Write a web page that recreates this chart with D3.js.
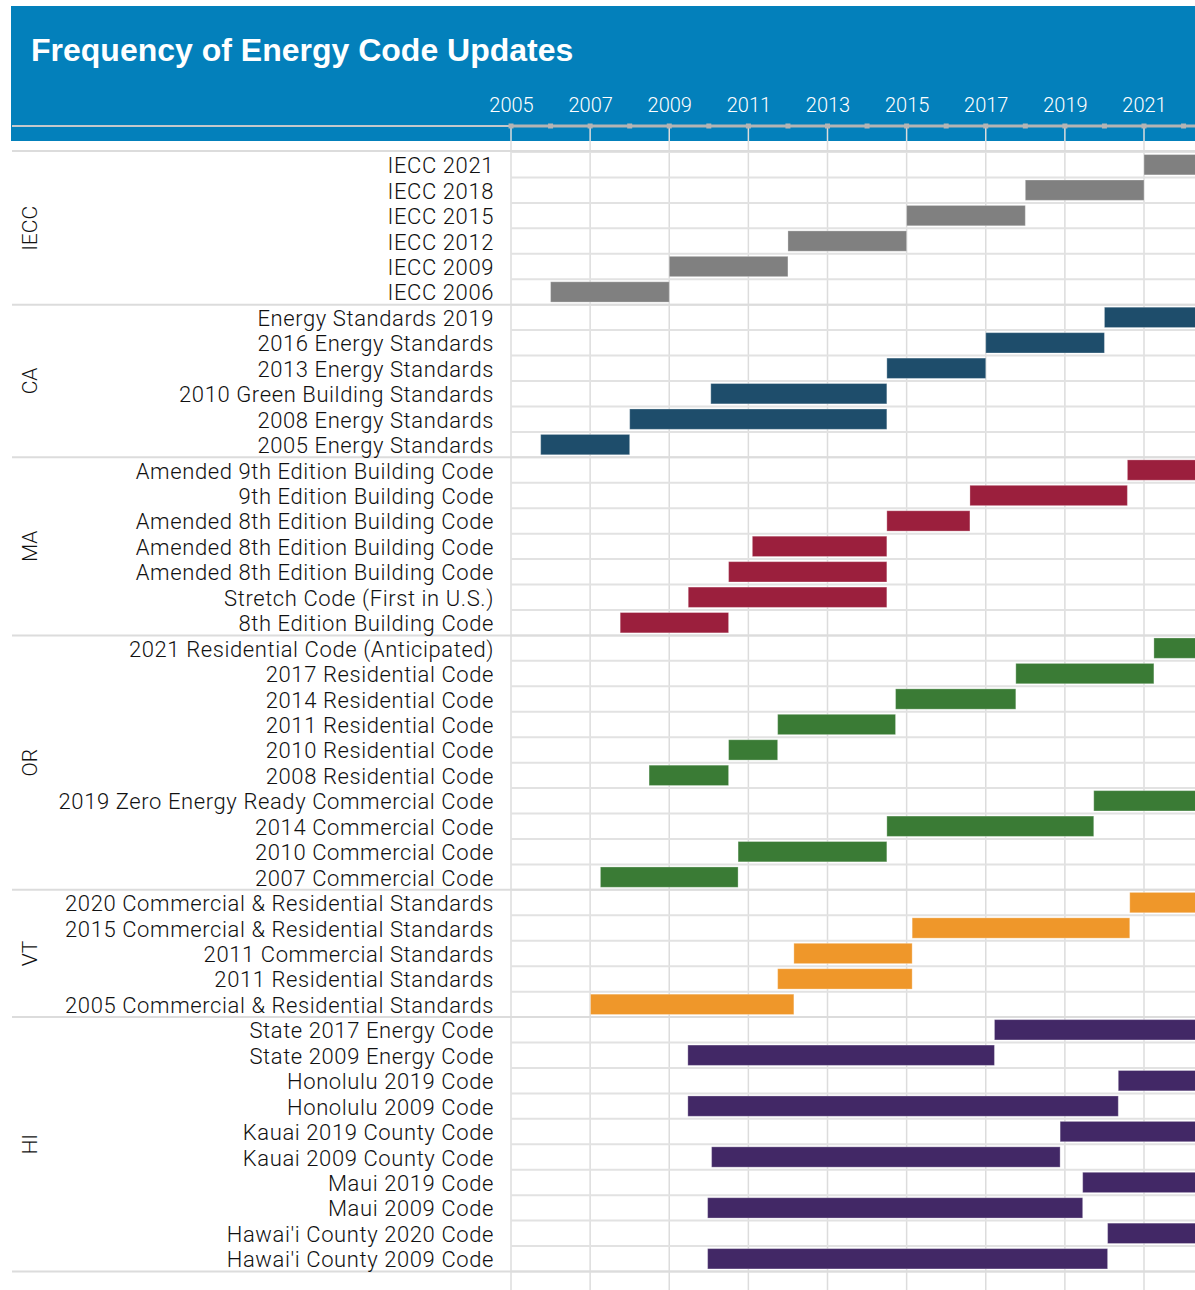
<!DOCTYPE html>
<html>
<head>
<meta charset="utf-8">
<script src="https://cdn.jsdelivr.net/npm/d3@7"></script>
<style>
  body { margin: 0; background: #fff; }
  svg { display: block; }
</style>
</head>
<body>
<div id="chart"></div>
<script>
// state / standard family of each row block
var groups = ["IECC", "CA", "MA", "OR", "VT", "HI"];
var groupColors = ["#808080", "#1e4d6b", "#9b1f3d", "#3a7b35", "#ef972a", "#422866"];

var codeNames = [
  "IECC 2021", "IECC 2018", "IECC 2015", "IECC 2012", "IECC 2009", "IECC 2006",
  "Energy Standards 2019", "2016 Energy Standards", "2013 Energy Standards",
  "2010 Green Building Standards", "2008 Energy Standards", "2005 Energy Standards",
  "Amended 9th Edition Building Code", "9th Edition Building Code",
  "Amended 8th Edition Building Code", "Amended 8th Edition Building Code",
  "Amended 8th Edition Building Code", "Stretch Code (First in U.S.)", "8th Edition Building Code",
  "2021 Residential Code (Anticipated)", "2017 Residential Code", "2014 Residential Code",
  "2011 Residential Code", "2010 Residential Code", "2008 Residential Code",
  "2019 Zero Energy Ready Commercial Code", "2014 Commercial Code",
  "2010 Commercial Code", "2007 Commercial Code",
  "2020 Commercial & Residential Standards", "2015 Commercial & Residential Standards",
  "2011 Commercial Standards", "2011 Residential Standards",
  "2005 Commercial & Residential Standards",
  "State 2017 Energy Code", "State 2009 Energy Code", "Honolulu 2019 Code", "Honolulu 2009 Code",
  "Kauai 2019 County Code", "Kauai 2009 County Code", "Maui 2019 Code", "Maui 2009 Code",
  "Hawai'i County 2020 Code", "Hawai'i County 2009 Code"
];
var codeGroups = [
  "IECC", "IECC", "IECC", "IECC", "IECC", "IECC",
  "CA", "CA", "CA", "CA", "CA", "CA",
  "MA", "MA", "MA", "MA", "MA", "MA", "MA",
  "OR", "OR", "OR", "OR", "OR", "OR", "OR", "OR", "OR", "OR",
  "VT", "VT", "VT", "VT", "VT",
  "HI", "HI", "HI", "HI", "HI", "HI", "HI", "HI", "HI", "HI"
];
// year the code took effect / was replaced (null = still in force)
var startYears = [
  2021, 2018, 2015, 2012, 2009, 2006,
  2020, 2017, 2014.5, 2010.05, 2008, 2005.75,
  2020.58, 2016.6, 2014.5, 2011.1, 2010.5, 2009.48, 2007.76,
  2021.25, 2017.76, 2014.72, 2011.74, 2010.5, 2008.49, 2019.73, 2014.5, 2010.74, 2007.26,
  2020.64, 2015.14, 2012.15, 2011.74, 2007.01,
  2017.22, 2009.47, 2020.35, 2009.47, 2018.88, 2010.07, 2019.45, 2009.97, 2020.08, 2009.97
];
var endYears = [
  null, 2021, 2018, 2015, 2012, 2009,
  null, 2020, 2017, 2014.5, 2014.5, 2008,
  null, 2020.58, 2016.6, 2014.5, 2014.5, 2014.5, 2010.5,
  null, 2021.25, 2017.76, 2014.72, 2011.74, 2010.5, null, 2019.73, 2014.5, 2010.74,
  null, 2020.64, 2015.14, 2015.14, 2012.15,
  null, 2017.22, null, 2020.35, null, 2018.88, null, 2019.45, null, 2020.08
];
var tickYears = d3.range(2005, 2023);

var W = 1195, H = 1290;
var svg = d3.select("#chart").append("svg").attr("width", W).attr("height", H);
var FONT = "Roboto, 'Liberation Sans', sans-serif";

var x = d3.scaleLinear().domain([2005, 2023]).range([511, 511 + 18 * 39.5625]);
var y = d3.scaleBand().domain(d3.range(codeNames.length))
  .range([152, 1271.5]).paddingInner(0.2).paddingOuter(0.1);
var step = y.step();
var rowTop = function (i) { return 152 + i * step; };
var color = d3.scaleOrdinal().domain(groups).range(groupColors);

// header band
svg.append("rect").attr("x", 11).attr("y", 6).attr("width", W - 11).attr("height", 135)
  .attr("fill", "#0380bb");
svg.append("text").attr("x", 31).attr("y", 61)
  .attr("fill", "#fff").style("font-family", "'Liberation Sans', Arial, sans-serif")
  .style("font-weight", "bold").style("font-size", "32px")
  .text("Frequency of Energy Code Updates");

// vertical grid on labelled years
svg.append("g").selectAll("line")
  .data(tickYears.filter(function (d) { return d % 2 === 1; }))
  .enter().append("line")
    .attr("x1", function (d) { return x(d); }).attr("x2", function (d) { return x(d); })
    .attr("y1", 126).attr("y2", H)
    .attr("stroke", "#dcdcdc").attr("stroke-width", 1.5);

// row separators
svg.append("g").selectAll("line")
  .data(d3.range(codeNames.length + 1))
  .enter().append("line")
    .attr("x1", 511).attr("x2", W)
    .attr("y1", function (i) { return rowTop(i); }).attr("y2", function (i) { return rowTop(i); })
    .attr("stroke", "#e2e2e2").attr("stroke-width", 2);

// group separators + group labels
var groupStart = groups.map(function (g) { return codeGroups.indexOf(g); });
var groupEnd = groups.map(function (g) { return codeGroups.lastIndexOf(g) + 1; });
svg.append("line").attr("x1", 12).attr("x2", W).attr("y1", 151).attr("y2", 151)
  .attr("stroke", "#dcdcdc").attr("stroke-width", 2);
svg.append("g").selectAll("line")
  .data(groupEnd)
  .enter().append("line")
    .attr("x1", 12).attr("x2", W)
    .attr("y1", function (i) { return rowTop(i); }).attr("y2", function (i) { return rowTop(i); })
    .attr("stroke", "#dcdcdc").attr("stroke-width", 2);

svg.append("g").selectAll("text")
  .data(groups)
  .enter().append("text")
    .attr("transform", function (g, k) {
      var cy = (rowTop(groupStart[k]) + rowTop(groupEnd[k])) / 2;
      return "translate(30," + cy + ") rotate(-90)";
    })
    .attr("text-anchor", "middle").attr("dominant-baseline", "central")
    .style("font-family", FONT).style("font-weight", 300).style("font-size", "21px")
    .attr("fill", "#111")
    .text(function (g) { return g; });

// row labels
svg.append("g").selectAll("text")
  .data(codeNames)
  .enter().append("text")
    .attr("x", 494)
    .attr("y", function (d, i) { return y(i) + y.bandwidth() / 2 + 1; })
    .attr("text-anchor", "end").attr("dominant-baseline", "central")
    .style("font-family", FONT).style("font-weight", 300).style("font-size", "22px")
    .style("letter-spacing", "0.6px")
    .attr("fill", "#111")
    .text(function (d) { return d; });

// bars
svg.append("g").selectAll("rect")
  .data(codeNames.map(function (d, i) { return i; }))
  .enter().append("rect")
    .attr("x", function (i) { return x(startYears[i]); })
    .attr("y", function (i) { return y(i); })
    .attr("width", function (i) {
      var e = endYears[i] === null ? 2023 : endYears[i];
      return x(e) - x(startYears[i]);
    })
    .attr("height", y.bandwidth())
    .attr("fill", function (i) { return color(codeGroups[i]); })
    .attr("stroke", "rgba(255,255,255,0.3)").attr("stroke-width", 1);

// time axis in the header
svg.append("line").attr("x1", 12).attr("x2", 511).attr("y1", 126).attr("y2", 126)
  .attr("stroke", "#c4c8cc").attr("stroke-width", 2);
svg.append("line").attr("x1", 511).attr("x2", W).attr("y1", 126).attr("y2", 126)
  .attr("stroke", "#b4b4b4").attr("stroke-width", 3);
svg.append("g").selectAll("rect")
  .data(tickYears)
  .enter().append("rect")
    .attr("x", function (d) { return x(d) - 2.5; }).attr("y", 123.5)
    .attr("width", 5).attr("height", 5).attr("fill", "#b4b4b4");

var axis = d3.axisTop(x)
  .tickValues(tickYears.filter(function (d) { return d % 2 === 1; }))
  .tickFormat(d3.format("d")).tickSize(0).tickPadding(14);
var axisG = svg.append("g").attr("transform", "translate(0,126)").call(axis);
axisG.select(".domain").remove();
axisG.selectAll("text")
  .attr("fill", "#fff")
  .style("font-family", FONT).style("font-weight", 300).style("font-size", "20px");
</script>
</body>
</html>
